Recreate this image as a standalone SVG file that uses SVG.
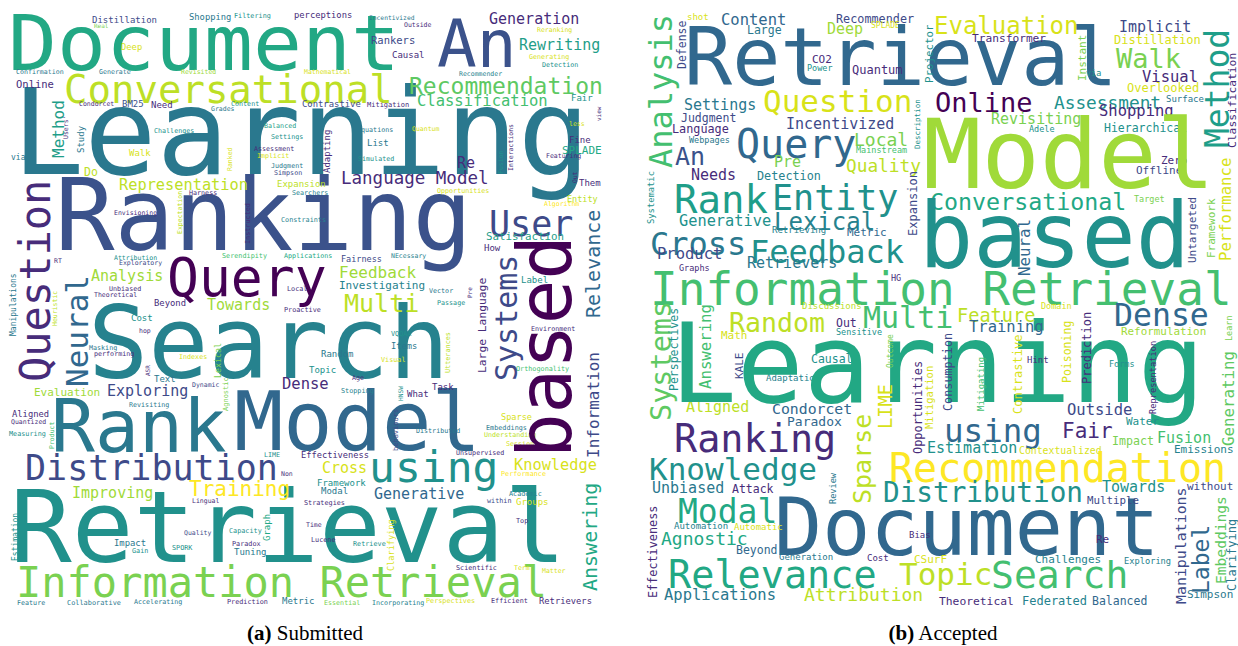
<svg xmlns="http://www.w3.org/2000/svg" width="1238" height="646" viewBox="0 0 1238 646">
<style>
text { font-family: "DejaVu Sans Mono", "Liberation Mono", monospace; }
.cap { font-family: "Liberation Serif", "DejaVu Serif", serif; font-size: 21px; fill: #000; }
.v0{fill:#440154}.v1{fill:#472c7a}.v2{fill:#3e4a89}.v25{fill:#3b528b}.v3{fill:#31688e}
.v4{fill:#2a788e}.v45{fill:#26828e}.v5{fill:#21918c}.v55{fill:#1f9e89}.v6{fill:#22a884}
.v7{fill:#44bf70}.v75{fill:#5ec962}.v8{fill:#7ad151}.v85{fill:#a0da39}.v9{fill:#bddf26}
.v95{fill:#d8e219}.v10{fill:#fde725}
</style>
<rect width="1238" height="646" fill="#fff"/>

<!-- word cloud: submitted titles -->
<g id="cloud-submitted">
<text class="v6" x="8" y="70" font-size="77" textLength="392" lengthAdjust="spacingAndGlyphs">Document</text>
<text class="v4" x="12" y="174" font-size="120">Learning</text>
<text class="v9" x="64" y="103" font-size="39">Conversational</text>
<text class="v25" x="55" y="250" font-size="99">Ranking</text>
<text class="v0" x="167" y="296" font-size="53">Query</text>
<text class="v45" x="88" y="378" font-size="100">Search</text>
<text class="v4" x="51" y="452" font-size="73">Rank</text>
<text class="v3" x="234" y="450" font-size="82">Model</text>
<text class="v2" x="25" y="480" font-size="35">Distribution</text>
<text class="v5" x="10" y="562" font-size="100" textLength="556" lengthAdjust="spacingAndGlyphs">Retrieval</text>
<text class="v8" x="16" y="597" font-size="42">Information Retrieval</text>
<text class="v10" x="189" y="496" font-size="21">Training</text>
<text class="v85" x="72" y="498" font-size="15">Improving</text>
<text class="v2" x="107" y="396" font-size="15">Exploring</text>
<text class="v85" x="34" y="396" font-size="11">Evaluation</text>
<text class="v85" x="91" y="281" font-size="15">Analysis</text>
<text class="v9" x="119" y="190" font-size="15.3">Representation</text>
<text class="v1" x="16" y="88" font-size="10.5">Online</text>
<text class="v2" x="92" y="23" font-size="9">Distillation</text>
<text class="v4" x="189" y="20" font-size="8.8">Shopping</text>
<text class="v8" x="94" y="28" font-size="6">Real</text>
<text class="v95" x="121" y="50" font-size="8.8">Deep</text>
<text class="v4" x="16" y="74" font-size="6.6">Confirmation</text>
<text class="v4" x="99" y="74" font-size="6.6">Generate</text>
<text class="v85" x="181" y="74" font-size="6.5">Revisited</text>
<text class="v1" x="79" y="106" font-size="6.5">Condorcet</text>
<text class="v25" x="122" y="107" font-size="9">BM25</text>
<text class="v1" x="151" y="108" font-size="9">Need</text>
<text class="v5" x="154" y="133" font-size="6.7">Challenges</text>
<text class="v95" x="129" y="156" font-size="9">Walk</text>
<text class="v4" x="11" y="160" font-size="8">via</text>
<text class="v9" x="84" y="176" font-size="11.5">Do</text>
<text class="v1" x="189" y="195" font-size="6.7">Harness</text>
<text class="v1" x="114" y="215" font-size="6.5">Envisioning</text>
<text class="v5" x="114" y="260" font-size="6.5">Attribution</text>
<text class="v2" x="119" y="265" font-size="6.5">Exploratory</text>
<text class="v1" x="54" y="263" font-size="6.5">RT</text>
<text class="v1" x="109" y="291" font-size="6.7">Unbiased</text>
<text class="v1" x="94" y="297" font-size="6.5">Theoretical</text>
<text class="v1" x="154" y="306" font-size="8.9">Beyond</text>
<text class="v5" x="131" y="321" font-size="9">Cost</text>
<text class="v1" x="139" y="333" font-size="6.5">hop</text>
<text class="v4" x="89" y="350" font-size="6.7">Masking</text>
<text class="v1" x="94" y="356" font-size="6.7">performing</text>
<text class="v95" x="179" y="359" font-size="6.7">Indexes</text>
<text class="v4" x="154" y="382" font-size="9">Text</text>
<text class="v2" x="192" y="387" font-size="6.5">Dynamic</text>
<text class="v4" x="129" y="407" font-size="6.7">Revisiting</text>
<text class="v1" x="12" y="417" font-size="8.8">Aligned</text>
<text class="v1" x="11" y="424" font-size="6.5">Quantized</text>
<text class="v5" x="9" y="436" font-size="6.8">Measuring</text>
<text class="v4" x="114" y="546" font-size="8.9">Impact</text>
<text class="v5" x="132" y="553" font-size="6.8">Gain</text>
<text class="v5" x="172" y="550" font-size="6.8">SPORK</text>
<text class="v2" x="184" y="535" font-size="6.5">Quality</text>
<text class="v1" x="192" y="503" font-size="6.5">Lingual</text>
<text class="v4" x="17" y="605" font-size="6.7">Feature</text>
<text class="v4" x="67" y="605" font-size="6.9">Collaborative</text>
<text class="v4" x="134" y="604" font-size="6.7">Accelerating</text>
<text class="v5" x="234" y="18" font-size="6.8">Filtering</text>
<text class="v1" x="294" y="18" font-size="8.8">perceptions</text>
<text class="v4" x="369" y="20" font-size="6.3">Incentivized</text>
<text class="v1" x="404" y="27" font-size="6.5">Outside</text>
<text class="v2" x="371" y="44" font-size="10.5">Rankers</text>
<text class="v1" x="392" y="58" font-size="9">Causal</text>
<text class="v95" x="304" y="74" font-size="6.5">Mathematical</text>
<text class="v5" x="231" y="106" font-size="6.7">Content</text>
<text class="v4" x="211" y="111" font-size="6.5">Grades</text>
<text class="v2" x="302" y="107" font-size="8.9">Contrastive</text>
<text class="v1" x="367" y="107" font-size="7">Mitigation</text>
<text class="v55" x="264" y="128" font-size="6.7">Balanced</text>
<text class="v5" x="271" y="139" font-size="6.7">Settings</text>
<text class="v4" x="357" y="132" font-size="6.7">Equations</text>
<text class="v4" x="367" y="146" font-size="9">List</text>
<text class="v1" x="254" y="151" font-size="6.7">Assessment</text>
<text class="v95" x="257" y="158" font-size="6.7">Implicit</text>
<text class="v5" x="358" y="161" font-size="6.7">Simulated</text>
<text class="v4" x="271" y="168" font-size="6.7">Judgment</text>
<text class="v2" x="274" y="175" font-size="6.7">Simpson</text>
<text class="v1" x="341" y="184" font-size="17.5">Language Model</text>
<text class="v9" x="277" y="187" font-size="9">Expansion</text>
<text class="v45" x="292" y="195" font-size="6.7">Searchers</text>
<text class="v45" x="281" y="222" font-size="6.8">Constraints</text>
<text class="v7" x="222" y="258" font-size="6.8">Serendipity</text>
<text class="v6" x="284" y="258" font-size="6.7">Applications</text>
<text class="v2" x="341" y="262" font-size="8.5">Fairness</text>
<text class="v45" x="391" y="258" font-size="6.5">NEcessary</text>
<text class="v85" x="339" y="278" font-size="16">Feedback</text>
<text class="v45" x="339" y="289" font-size="11">Investigating</text>
<text class="v1" x="287" y="291" font-size="6.8">Local</text>
<text class="v85" x="207" y="310" font-size="15">Towards</text>
<text class="v9" x="344" y="312" font-size="25">Multi</text>
<text class="v1" x="284" y="312" font-size="6.8">Proactive</text>
<text class="v1" x="489" y="24" font-size="15">Generation</text>
<text class="v95" x="537" y="32" font-size="6.5">Reranking</text>
<text class="v25" x="437" y="67" font-size="66">An</text>
<text class="v55" x="519" y="50" font-size="15">Rewriting</text>
<text class="v95" x="529" y="59" font-size="6.7">Generating</text>
<text class="v5" x="542" y="67" font-size="6.7">Detection</text>
<text class="v45" x="459" y="76" font-size="6.5">Recommender</text>
<text class="v75" x="409" y="94" font-size="23">Recommendation</text>
<text class="v7" x="417" y="106" font-size="15.5">Classification</text>
<text class="v5" x="571" y="101" font-size="9">Fair</text>
<text class="v95" x="569" y="126" font-size="6.5">less</text>
<text class="v95" x="412" y="131" font-size="6.5">Quantum</text>
<text class="v1" x="569" y="143" font-size="9">Fine</text>
<text class="v6" x="562" y="154" font-size="11">SPLADE</text>
<text class="v1" x="546" y="158" font-size="6.5">Featuring</text>
<text class="v1" x="457" y="168" font-size="15">Re</text>
<text class="v1" x="579" y="186" font-size="9">Them</text>
<text class="v95" x="437" y="193" font-size="6.7">Opportunities</text>
<text class="v9" x="567" y="202" font-size="8.5">Entity</text>
<text class="v10" x="544" y="206" font-size="6.5">Algorithm</text>
<text class="v2" x="489" y="236" font-size="35">User</text>
<text class="v55" x="486" y="240" font-size="10.8">Satisfaction</text>
<text class="v1" x="484" y="251" font-size="9">How</text>
<text class="v5" x="521" y="283" font-size="9">Label</text>
<text class="v4" x="429" y="293" font-size="6.7">Vector</text>
<text class="v5" x="437" y="305" font-size="6.7">Passage</text>
<text class="v5" x="391" y="336" font-size="6.8">VQQAA</text>
<text class="v4" x="391" y="349" font-size="8.7">Items</text>
<text class="v4" x="321" y="357" font-size="9">Random</text>
<text class="v95" x="381" y="362" font-size="6.8">Visual</text>
<text class="v5" x="309" y="373" font-size="9">Topic</text>
<text class="v1" x="352" y="380" font-size="6.7">Age</text>
<text class="v1" x="282" y="389" font-size="15.5">Dense</text>
<text class="v45" x="341" y="393" font-size="6.8">Stopping</text>
<text class="v5" x="264" y="457" font-size="6.7">LIME</text>
<text class="v1" x="301" y="458" font-size="8.7">Effectiveness</text>
<text class="v95" x="322" y="473" font-size="15">Cross</text>
<text class="v5" x="369" y="482" font-size="43">using</text>
<text class="v1" x="281" y="476" font-size="6.5">Non</text>
<text class="v5" x="317" y="486" font-size="9">Framework</text>
<text class="v4" x="321" y="494" font-size="9">Modal</text>
<text class="v3" x="374" y="499" font-size="15">Generative</text>
<text class="v1" x="304" y="505" font-size="6.8">Strategies</text>
<text class="v1" x="306" y="527" font-size="6.5">Time</text>
<text class="v5" x="229" y="533" font-size="6.8">Capacity</text>
<text class="v1" x="232" y="546" font-size="6.8">Paradox</text>
<text class="v4" x="234" y="555" font-size="9">Tuning</text>
<text class="v1" x="311" y="542" font-size="6.8">Lucene</text>
<text class="v5" x="353" y="546" font-size="6.8">Retrieve</text>
<text class="v1" x="227" y="604" font-size="6.8">Prediction</text>
<text class="v4" x="282" y="604" font-size="9">Metric</text>
<text class="v8" x="324" y="605" font-size="6.7">Essential</text>
<text class="v45" x="372" y="605" font-size="6.7">Incorporating</text>
<text class="v1" x="531" y="331" font-size="6.7">Environment</text>
<text class="v7" x="516" y="371" font-size="6.8">Orthogonality</text>
<text class="v1" x="432" y="390" font-size="9">Task</text>
<text class="v1" x="407" y="397" font-size="9">What</text>
<text class="v95" x="501" y="420" font-size="8.6">Sparse</text>
<text class="v4" x="416" y="433" font-size="6.7">Distributed</text>
<text class="v4" x="486" y="430" font-size="6.8">Embeddings</text>
<text class="v9" x="484" y="437" font-size="6.7">Understanding</text>
<text class="v95" x="506" y="446" font-size="6.7">Sessions</text>
<text class="v1" x="456" y="455" font-size="6.7">Unsupervised</text>
<text class="v95" x="514" y="470" font-size="15.3">Knowledge</text>
<text class="v10" x="501" y="476" font-size="6.8">Performance</text>
<text class="v45" x="509" y="496" font-size="6.8">Academic</text>
<text class="v2" x="487" y="503" font-size="6.8">within</text>
<text class="v95" x="516" y="505" font-size="9">Groups</text>
<text class="v1" x="516" y="523" font-size="6.8">Top</text>
<text class="v1" x="456" y="570" font-size="6.8">Scientific</text>
<text class="v95" x="514" y="570" font-size="6.5">Term</text>
<text class="v95" x="542" y="573" font-size="6.5">Matter</text>
<text class="v95" x="426" y="603" font-size="6.8">Perspectives</text>
<text class="v1" x="491" y="603" font-size="6.8">Efficient</text>
<text class="v1" x="539" y="604" font-size="8.8">Retrievers</text>
<!-- rotated words, reading upwards -->
<text class="v55" font-size="16" transform="translate(64 158) rotate(-90)">Method</text>
<text class="v1" font-size="6.5" transform="translate(68 139) rotate(-90)">Users'</text>
<text class="v4" font-size="9" transform="translate(84 153) rotate(-90)">Study</text>
<text class="v9" font-size="6.5" transform="translate(182 234) rotate(-90)">Expectation</text>
<text class="v1" font-size="42" transform="translate(50 382) rotate(-90)">Question</text>
<text class="v3" font-size="31" transform="translate(88 387) rotate(-90)">Neural</text>
<text class="v4" font-size="8" transform="translate(16 336) rotate(-90)">Manipulations</text>
<text class="v9" font-size="6.5" transform="translate(57 326) rotate(-90)">Heuristic</text>
<text class="v1" font-size="6" transform="translate(150 376) rotate(-90)">ASR</text>
<text class="v7" font-size="6.5" transform="translate(54 449) rotate(-90)">Product</text>
<text class="v5" font-size="8" transform="translate(18 561) rotate(-90)">Estimation</text>
<text class="v95" font-size="6.5" transform="translate(232 171) rotate(-90)">Ranked</text>
<text class="v1" font-size="9" transform="translate(330 173) rotate(-90)">Adapting</text>
<text class="v1" font-size="6.8" transform="translate(250 244) rotate(-90)">Instructed</text>
<text class="v5" font-size="6.5" transform="translate(503 174) rotate(-90)">Fusion</text>
<text class="v1" font-size="6.5" transform="translate(513 171) rotate(-90)">Interactions</text>
<text class="v1" font-size="6" transform="translate(601 121) rotate(-90)">view</text>
<text class="v1" font-size="6.3" transform="translate(577 183) rotate(-90)">Out</text>
<text class="v3" font-size="20" transform="translate(600 318) rotate(-90)">Relevance</text>
<text class="v2" font-size="30" transform="translate(517 381) rotate(-90)">Systems</text>
<text class="v0" font-size="74" transform="translate(571 458) rotate(-90)">based</text>
<text class="v1" font-size="11.3" transform="translate(486 373) rotate(-90)">Large Language</text>
<text class="v1" font-size="6" transform="translate(472 298) rotate(-90)">Pre</text>
<text class="v8" font-size="8.3" transform="translate(221 378) rotate(-90)">Lexical</text>
<text class="v8" font-size="7" transform="translate(228 411) rotate(-90)">Agnostic</text>
<text class="v5" font-size="6.3" transform="translate(403 401) rotate(-90)">HNSW</text>
<text class="v2" font-size="7" transform="translate(398 451) rotate(-90)">behaviours</text>
<text class="v6" font-size="9" transform="translate(270 541) rotate(-90)">Graph</text>
<text class="v95" font-size="8.6" transform="translate(394 571) rotate(-90)">Clarifying</text>
<text class="v9" font-size="6.8" transform="translate(450 373) rotate(-90)">Utterances</text>
<text class="v2" font-size="16" transform="translate(599 458) rotate(-90)">Information</text>
<text class="v6" font-size="20" transform="translate(597 591) rotate(-90)">Answering</text>
</g>

<!-- word cloud: accepted titles -->
<g id="cloud-accepted">
<text class="v95" x="687" y="20" font-size="9">shot</text>
<text class="v3" x="721" y="25" font-size="15.5">Content</text>
<text class="v4" x="747" y="34" font-size="11.5">Large</text>
<text class="v2" x="836" y="23" font-size="11.8">Recommender</text>
<text class="v85" x="827" y="34" font-size="15">Deep</text>
<text class="v95" x="871" y="28" font-size="8">SPLADE</text>
<text class="v3" x="684" y="85" font-size="80">Retrieval</text>
<text class="v1" x="812" y="63" font-size="11">CO2</text>
<text class="v5" x="807" y="71" font-size="8.5">Power</text>
<text class="v1" x="852" y="74" font-size="12">Quantum</text>
<text class="v95" x="934" y="34" font-size="24">Evaluation</text>
<text class="v1" x="972" y="42" font-size="11.2">Transformer</text>
<text class="v2" x="1119" y="32" font-size="15">Implicit</text>
<text class="v95" x="1114" y="44" font-size="12">Distillation</text>
<text class="v8" x="1116" y="68" font-size="27">Walk</text>
<text class="v5" x="1086" y="76" font-size="8.5">via</text>
<text class="v1" x="1142" y="82" font-size="15.5">Visual</text>
<text class="v95" x="1127" y="92" font-size="12">Overlooked</text>
<text class="v4" x="1166" y="102" font-size="9">Surface</text>
<text class="v5" x="1054" y="109" font-size="17.8">Assessment</text>
<text class="v1" x="1099" y="116" font-size="15.5">Shopping</text>
<text class="v5" x="1104" y="132" font-size="11.5">Hierarchical</text>
<text class="v0" x="935" y="112" font-size="27">Online</text>
<text class="v8" x="991" y="124" font-size="15">Revisiting</text>
<text class="v5" x="1029" y="132" font-size="8.5">Adele</text>
<text class="v1" x="1161" y="164" font-size="11">Zero</text>
<text class="v2" x="1136" y="174" font-size="11">Offline</text>
<text class="v8" x="1134" y="202" font-size="8.5">Target</text>
<text class="v85" x="923" y="188" font-size="97">Model</text>
<text class="v6" x="930" y="210" font-size="23.3">Conversational</text>
<text class="v5" x="919" y="267" font-size="90">based</text>
<text class="v7" x="650" y="305" font-size="46">Information Retrieval</text>
<text class="v95" x="763" y="112" font-size="31">Question</text>
<text class="v4" x="684" y="110" font-size="15">Settings</text>
<text class="v2" x="681" y="122" font-size="11.5">Judgment</text>
<text class="v1" x="672" y="133" font-size="11.8">Language</text>
<text class="v4" x="689" y="143" font-size="8.5">Webpages</text>
<text class="v2" x="786" y="129" font-size="15">Incentivized</text>
<text class="v3" x="736" y="158" font-size="40">Query</text>
<text class="v8" x="854" y="146" font-size="18">Local</text>
<text class="v7" x="856" y="153" font-size="8.5">Mainstream</text>
<text class="v9" x="846" y="172" font-size="17.8">Quality</text>
<text class="v25" x="675" y="165" font-size="25">An</text>
<text class="v8" x="774" y="167" font-size="15">Pre</text>
<text class="v1" x="691" y="180" font-size="15">Needs</text>
<text class="v45" x="757" y="180" font-size="11.8">Detection</text>
<text class="v55" x="674" y="213" font-size="39">Rank</text>
<text class="v5" x="772" y="210" font-size="35">Entity</text>
<text class="v5" x="679" y="226" font-size="15.3">Generative</text>
<text class="v45" x="774" y="230" font-size="24">Lexical</text>
<text class="v45" x="772" y="233" font-size="9">Retrieving</text>
<text class="v4" x="650" y="255" font-size="32">Cross</text>
<text class="v5" x="750" y="263" font-size="32">Feedback</text>
<text class="v3" x="847" y="236" font-size="11">Metric</text>
<text class="v2" x="657" y="259" font-size="15.5">Product</text>
<text class="v1" x="679" y="271" font-size="8.5">Graphs</text>
<text class="v4" x="747" y="268" font-size="15">Retrievers</text>
<text class="v1" x="891" y="281" font-size="8.5">HG</text>
<text class="v9" x="802" y="309" font-size="9">Discussions</text>
<text class="v9" x="729" y="332" font-size="26.6">Random</text>
<text class="v1" x="836" y="327" font-size="11.5">Out</text>
<text class="v95" x="721" y="339" font-size="11">Math</text>
<text class="v5" x="836" y="335" font-size="8.5">Sensitive</text>
<text class="v5" x="811" y="363" font-size="11.5">Causal</text>
<text class="v45" x="766" y="381" font-size="9">Adaptation</text>
<text class="v9" x="686" y="412" font-size="15">Aligned</text>
<text class="v3" x="772" y="414" font-size="14.8">Condorcet</text>
<text class="v3" x="787" y="426" font-size="13">Paradox</text>
<text class="v6" x="670" y="402" font-size="111">Learning</text>
<text class="v1" x="674" y="452" font-size="38.5">Ranking</text>
<text class="v5" x="649" y="480" font-size="31">Knowledge</text>
<text class="v4" x="652" y="493" font-size="15">Unbiased</text>
<text class="v1" x="732" y="493" font-size="11.5">Attack</text>
<text class="v6" x="678" y="523" font-size="33">Modal</text>
<text class="v3" x="774" y="555" font-size="80">Document</text>
<text class="v45" x="674" y="529" font-size="9">Automation</text>
<text class="v95" x="734" y="530" font-size="9">Automatic</text>
<text class="v6" x="661" y="545" font-size="18">Agnostic</text>
<text class="v3" x="736" y="554" font-size="11.5">Beyond</text>
<text class="v4" x="779" y="560" font-size="9">Generation</text>
<text class="v6" x="668" y="588" font-size="38.5">Relevance</text>
<text class="v4" x="664" y="600" font-size="15.5">Applications</text>
<text class="v9" x="804" y="601" font-size="18">Attribution</text>
<text class="v7" x="863" y="328" font-size="30">Multi</text>
<text class="v9" x="957" y="322" font-size="18.6">Feature</text>
<text class="v3" x="969" y="332" font-size="15.5">Training</text>
<text class="v1" x="1027" y="363" font-size="9">Hint</text>
<text class="v3" x="944" y="442" font-size="32.5">using</text>
<text class="v5" x="927" y="453" font-size="15">Estimation</text>
<text class="v95" x="1019" y="454" font-size="9.8">Contextualized</text>
<text class="v10" x="889" y="482" font-size="40">Recommendation</text>
<text class="v5" x="883" y="502" font-size="27.7">Distribution</text>
<text class="v1" x="909" y="538" font-size="9">Bias</text>
<text class="v1" x="867" y="561" font-size="9">Cost</text>
<text class="v95" x="914" y="563" font-size="11">CSurF</text>
<text class="v45" x="1035" y="563" font-size="11">Challenges</text>
<text class="v9" x="899" y="585" font-size="31">Topic</text>
<text class="v7" x="991" y="588" font-size="38">Search</text>
<text class="v1" x="939" y="605" font-size="11.3">Theoretical</text>
<text class="v45" x="1022" y="605" font-size="12">Federated</text>
<text class="v85" x="1121" y="335" font-size="10.9">Reformulation</text>
<text class="v95" x="1041" y="309" font-size="8.5">Domain</text>
<text class="v3" x="1114" y="326" font-size="31.5">Dense</text>
<text class="v5" x="1109" y="367" font-size="8.5">Forms</text>
<text class="v2" x="1067" y="415" font-size="15.5">Outside</text>
<text class="v5" x="1126" y="425" font-size="11">Water</text>
<text class="v1" x="1062" y="438" font-size="21">Fair</text>
<text class="v8" x="1112" y="445" font-size="11.6">Impact</text>
<text class="v7" x="1157" y="443" font-size="15">Fusion</text>
<text class="v45" x="1174" y="453" font-size="11">Emissions</text>
<text class="v5" x="1102" y="492" font-size="15">Towards</text>
<text class="v2" x="1187" y="490" font-size="11">without</text>
<text class="v2" x="1087" y="504" font-size="10.8">Multiple</text>
<text class="v1" x="1096" y="543" font-size="11">Re</text>
<text class="v45" x="1124" y="564" font-size="8.7">Exploring</text>
<text class="v4" x="1187" y="598" font-size="11">Simpson</text>
<text class="v3" x="1092" y="605" font-size="11.5">Balanced</text>
<!-- rotated words, reading upwards -->
<text class="v7" font-size="32" transform="translate(672 168) rotate(-90)">Analysis</text>
<text class="v2" font-size="11.5" transform="translate(686 69) rotate(-90)">Defense</text>
<text class="v5" font-size="10.8" transform="translate(933 83) rotate(-90)">Projector</text>
<text class="v8" font-size="11" transform="translate(1086 81) rotate(-90)">Instant</text>
<text class="v55" font-size="33" transform="translate(1229 148) rotate(-90)">Method</text>
<text class="v1" font-size="11.3" transform="translate(1236 148) rotate(-90)">Classification</text>
<text class="v5" font-size="7.5" transform="translate(920 149) rotate(-90)">Description</text>
<text class="v5" font-size="8.8" transform="translate(654 224) rotate(-90)">Systematic</text>
<text class="v2" font-size="12" transform="translate(917 236) rotate(-90)">Expansion</text>
<text class="v3" font-size="15.8" transform="translate(1030 276) rotate(-90)">Neural</text>
<text class="v95" font-size="15.6" transform="translate(1231 261) rotate(-90)">Performance</text>
<text class="v8" font-size="11" transform="translate(1215 258) rotate(-90)">Framework</text>
<text class="v2" font-size="11" transform="translate(1196 263) rotate(-90)">Untargeted</text>
<text class="v75" font-size="28.5" transform="translate(671 421) rotate(-90)">Systems</text>
<text class="v5" font-size="11.5" transform="translate(678 391) rotate(-90)">Perspectives</text>
<text class="v7" font-size="15.7" transform="translate(711 389) rotate(-90)">Answering</text>
<text class="v2" font-size="11" transform="translate(743 379) rotate(-90)">KALE</text>
<text class="v4" font-size="8.6" transform="translate(836 504) rotate(-90)">Review</text>
<text class="v1" font-size="11.8" transform="translate(657 598) rotate(-90)">Effectiveness</text>
<text class="v8" font-size="8" transform="translate(893 368) rotate(-90)">Outcome</text>
<text class="v2" font-size="11.8" transform="translate(952 411) rotate(-90)">Consumption</text>
<text class="v95" font-size="12" transform="translate(1022 414) rotate(-90)">Contrastive</text>
<text class="v7" font-size="9" transform="translate(984 411) rotate(-90)">Mitigating</text>
<text class="v1" font-size="11.9" transform="translate(922 454) rotate(-90)">Opportunities</text>
<text class="v95" font-size="18.7" transform="translate(892 429) rotate(-90)">LIME</text>
<text class="v95" font-size="10.5" transform="translate(933 429) rotate(-90)">Mitigation</text>
<text class="v9" font-size="25" transform="translate(871 504) rotate(-90)">Sparse</text>
<text class="v95" font-size="11.5" transform="translate(1071 383) rotate(-90)">Poisoning</text>
<text class="v1" font-size="12" transform="translate(1091 384) rotate(-90)">Prediction</text>
<text class="v8" font-size="8.5" transform="translate(1232 341) rotate(-90)">Learn</text>
<text class="v1" font-size="8.7" transform="translate(1156 414) rotate(-90)">Representation</text>
<text class="v75" font-size="15.8" transform="translate(1234 446) rotate(-90)">Generating</text>
<text class="v2" font-size="14.9" transform="translate(1186 604) rotate(-90)">Manipulations</text>
<text class="v3" font-size="23" transform="translate(1209 594) rotate(-90)">Label</text>
<text class="v75" font-size="14.6" transform="translate(1226 584) rotate(-90)">Embeddings</text>
<text class="v4" font-size="12" transform="translate(1236 591) rotate(-90)">Clarifying</text>
</g>

<!-- sub-figure captions -->
<g id="captions">
<text class="cap" x="305" y="640" text-anchor="middle"><tspan font-weight="bold">(a)</tspan> Submitted</text>
<text class="cap" x="943" y="640" text-anchor="middle"><tspan font-weight="bold">(b)</tspan> Accepted</text>
</g>
</svg>
